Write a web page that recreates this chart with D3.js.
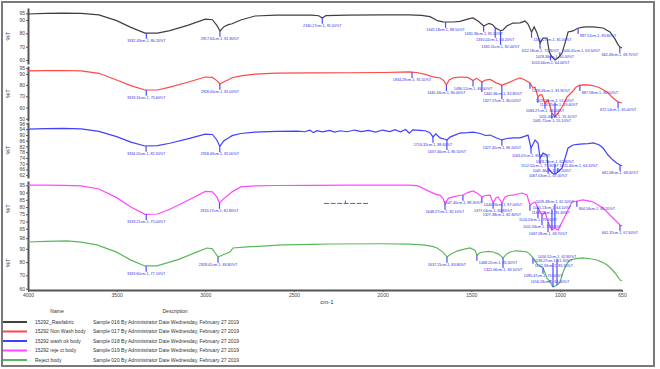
<!DOCTYPE html>
<html>
<head>
<meta charset="utf-8">
<script src="https://cdn.jsdelivr.net/npm/d3@7"></script>
<style>
  body { margin: 0; background: #fff; }
  text { font-family: "Liberation Sans", Arial, sans-serif; }
</style>
</head>
<body>
<svg id="chart" width="660" height="369"></svg>
<script>
// x ticks (cm-1)
const wnTicks = [4000, 3500, 3000, 2500, 2000, 1500, 1000, 650]

const seriesNames = ["15292_Rawfabric", "15292 Non Wash body", "15292 wash ok body", "15292 reje ct body", "Reject body"]
const descriptions = [
  "Sample 016 By Administrator Date Wednesday, February 27 2019",
  "Sample 017 By Administrator Date Wednesday, February 27 2019",
  "Sample 018 By Administrator Date Wednesday, February 27 2019",
  "Sample 019 By Administrator Date Wednesday, February 27 2019",
  "Sample 020 By Administrator Date Wednesday, February 27 2019"
]
const colors = ["#404040", "#ff4848", "#4040ff", "#ff48ff", "#5cb85c"]

// [wavenumber, %T]
const rawFabric = [[4000,94.5],[3900,95],[3800,95.2],[3700,95],[3600,93.8],[3500,89.5],[3420,84.5],[3340,80.2],[3270,80.2],[3200,82],[3100,86],[3000,90.6],[2960,90.2],[2935,86],[2917,81.8],[2895,85],[2870,86.5],[2849,87.2],[2800,90],[2720,93],[2600,93.6],[2400,93.7],[2360,93.2],[2340,91.5],[2320,93.3],[2200,93.6],[2000,93.8],[1850,93.9],[1780,93.4],[1733,92.5],[1690,89.5],[1660,88.6],[1645,88.5],[1600,88.5],[1564,89],[1510,91],[1490,91.5],[1460,89],[1430,85.5],[1400,87.5],[1380,86.5],[1365,84.2],[1335,82],[1321,82.5],[1300,85.5],[1265,87.7],[1225,87.8],[1197,89.2],[1180,87],[1160,81],[1145,84.8],[1130,80.5],[1112,72.8],[1095,76.5],[1073,76.5],[1060,66],[1045,62.3],[1028,60],[1011,61.5],[988,65.2],[971,72.8],[954,81],[926,81.8],[900,83.8],[870,84.6],[847,84.8],[813,84.8],[757,84],[718,81],[690,75.8],[670,71],[661,69.7],[650,69]]

const nonWash = [[4000,92.6],[3900,92.9],[3800,93],[3700,92.6],[3600,90.5],[3500,84.5],[3420,79.5],[3340,75.6],[3270,75.6],[3200,78.2],[3100,82.5],[3000,87.2],[2960,86.8],[2935,84],[2918,81],[2895,83],[2870,84.8],[2849,86.5],[2800,88.2],[2720,89.8],[2600,90.6],[2400,90.8],[2200,91],[2000,91.2],[1900,91.5],[1851,91.8],[1834,91.5],[1800,91],[1760,89.5],[1720,87.5],[1676,86.3],[1655,84],[1640,80],[1625,84.5],[1600,86.5],[1564,87.2],[1520,86.8],[1490,84],[1470,86],[1440,82.8],[1420,84.5],[1394,85],[1360,82],[1327,80],[1300,81.5],[1282,82.8],[1250,85],[1225,86.3],[1197,84.5],[1169,81.9],[1152,77.4],[1140,78],[1124,69.4],[1112,71.2],[1101,71.2],[1084,64],[1067,66.7],[1045,55.1],[1028,51.6],[1011,55.1],[988,60.5],[960,69.4],[932,73.8],[910,78],[887,80],[860,80.2],[830,80],[800,79],[774,77.4],[734,73.8],[701,68.5],[672,65],[661,64.5],[650,64]]

const washOk = [[4000,94.1],[3900,94.4],[3800,94.5],[3700,94.2],[3600,92.5],[3500,88.8],[3420,85],[3340,82.3],[3270,82.5],[3200,84.2],[3100,87.2],[3000,90.6],[2960,90.3],[2935,86.5],[2918,82],[2895,86],[2870,87.8],[2849,89.5],[2800,91],[2720,92],[2600,92.5],[2480,92.6],[2440,92.2],[2410,93.3],[2390,91.6],[2370,93],[2340,92.1],[2300,93.2],[2270,92],[2240,92.9],[2200,92.2],[2160,93.4],[2120,92.3],[2080,93.1],[2040,92],[2000,93.4],[1960,92.3],[1930,93.6],[1900,92.2],[1870,93.8],[1850,91.2],[1830,93.5],[1790,93.2],[1760,92.9],[1733,91.5],[1716,88.6],[1700,90.8],[1676,87.9],[1650,87],[1637,86.5],[1620,88.5],[1600,89.5],[1564,91.3],[1520,91.6],[1490,92],[1450,91],[1420,89.6],[1394,89.9],[1360,88],[1327,86.5],[1300,87.5],[1260,88],[1225,87.9],[1200,89],[1180,89.9],[1163,80.9],[1150,84],[1140,86.5],[1124,84.4],[1112,73.9],[1095,77.4],[1073,76],[1067,67],[1045,63.5],[1028,62.8],[1011,64.2],[988,67],[971,73.9],[954,80.9],[926,83],[900,83.4],[870,83.7],[840,84],[813,84.4],[780,83.2],[757,80.9],[729,76],[701,72.5],[680,70.5],[661,69],[650,68.5]]

const rejectCt = [[4000,95.2],[3900,95.2],[3800,95],[3700,94.6],[3600,92.5],[3500,86.5],[3420,80],[3340,75],[3270,75.2],[3200,78.5],[3100,84.5],[3000,90.8],[2960,90.5],[2935,87],[2920,82.8],[2895,86],[2870,88.3],[2849,90.5],[2800,93.9],[2720,94.6],[2600,94.9],[2400,95],[2200,95.1],[2000,95.2],[1850,95.1],[1800,94.6],[1740,91],[1700,88.8],[1676,88.3],[1660,86],[1648,82.1],[1630,86],[1603,87],[1570,88],[1547,88.3],[1520,90],[1490,91.1],[1460,89],[1440,87],[1420,88],[1394,88.3],[1377,82.8],[1360,86.5],[1349,87],[1327,82.8],[1310,87],[1290,88],[1265,88.3],[1240,89],[1214,89.7],[1186,88.3],[1169,81.4],[1150,83],[1140,83.5],[1124,79.4],[1101,74.5],[1084,76.6],[1067,69.7],[1045,64.1],[1028,65.5],[1011,64.1],[988,69.7],[960,76.6],[932,83.5],[904,84.2],[870,84.9],[840,84.3],[813,83.5],[757,79.4],[718,74.5],[678,69.7],[661,67.6],[650,67]]

const rejectBody = [[4000,95.1],[3900,95.6],[3780,95.9],[3700,95],[3611,92.9],[3500,87.5],[3420,81.5],[3340,77.1],[3272,77.1],[3150,82],[3050,87.5],[2990,90.6],[2960,90],[2945,87],[2928,83.8],[2900,85.5],[2861,87.6],[2844,90.6],[2765,91.4],[2562,92.9],[2400,93.3],[2297,93.6],[2000,93.8],[1850,93.5],[1772,92.9],[1720,91.8],[1693,90.6],[1660,87.5],[1637,83.8],[1610,86.5],[1580,88.3],[1540,89.8],[1507,90.6],[1480,89],[1468,85.3],[1450,87],[1434,87.6],[1400,88],[1377,87.6],[1345,86],[1321,83.1],[1300,86],[1282,87.6],[1250,88.5],[1225,88.3],[1186,87.6],[1170,86],[1152,83.1],[1124,77.8],[1095,75.6],[1073,68],[1056,65],[1039,61.3],[1016,62.8],[999,65],[982,72.5],[960,79],[943,81.6],[900,82.8],[870,83.1],[830,82.5],[791,81.6],[760,79.8],[734,77.8],[710,75],[689,71.8],[661,66.5],[650,66]]

// peak picks [wavenumber, %T]
const peaksRaw = [[3332.43,80.2],[2917.62,81.8],[2340.27,91.5],[1645.18,88.5],[1430.36,85.5],[1365.02,84.2],[1335.11,82],[1160.27,81],[1112.18,72.8],[1053.44,64],[1028.36,60],[1000.41,63.5],[897.52,83.8],[662.49,69.7]]
const peaksNonWash = [[3333.16,75.6],[2918.05,81],[1834.29,91.5],[1640.44,80],[1490.12,84],[1440.36,82.8],[1327.57,80],[1169.03,81.9],[1124.35,69.4],[1084.27,64],[1045.71,55.1],[1028.15,51.6],[1011.46,55.1],[887.58,80],[672.14,65]]
const peaksWashOk = [[3334.05,82.3],[2918.43,82],[1716.32,88.6],[1637.40,86.5],[1327.45,86.5],[1163.07,80.9],[1112.52,73.9],[1067.03,67],[1045.36,63.5],[1028.24,62.8],[1011.40,64.2],[661.08,69]]
const peaksRejectCt = [[3333.21,75],[2920.17,82.8],[1648.27,82.1],[1547.40,88.3],[1440.26,87],[1377.04,82.8],[1327.38,82.8],[1169.22,81.4],[1124.03,79.4],[1101.56,74.5],[1067.28,69.7],[1045.13,64.1],[1028.49,65.5],[904.56,84.2],[661.37,67.6]]
const peaksRejectBody = [[3333.60,77.1],[2928.41,83.8],[1637.15,83.8],[1468.22,85.3],[1321.06,83.1],[1152.33,83.1],[1095.47,75.6],[1056.18,65],[1039.27,61.3],[1016.52,62.8]]

const allSeries = [rawFabric, nonWash, washOk, rejectCt, rejectBody]
const allPeaks = [peaksRaw, peaksNonWash, peaksWashOk, peaksRejectCt, peaksRejectBody]

// y domain and ticks of each stacked panel
const yDomains = [[57, 99], [48, 97], [60, 99], [60, 98], [59, 100]]
const yTicks = [[60,70,80,90,95], [50,60,70,80,90,95], [62,66,70,74,78,82,86,90,94,98], [65,70,75,80,85,90,95], [60,70,80,90,98]]
const panelBox = [[8, 64], [66, 121], [122, 178], [181, 236], [235.5, 290]]

const svg = d3.select("#chart")

// outer frame
svg.append("rect")
  .attr("x", 2).attr("y", 2).attr("width", 652).attr("height", 364)
  .attr("fill", "#fff").attr("stroke", "#7a7a7a").attr("stroke-width", 2)

const x = d3.scaleLinear().domain([4000, 650]).range([28, 622])

const labelColor = "#2c2ce6"
const allBoxes = []   // label boxes of every panel, so neighbours do not collide

allSeries.forEach((data, i) => {
  const y = d3.scaleLinear().domain(yDomains[i]).range([panelBox[i][1], panelBox[i][0]])
  const g = svg.append("g")

  // y axis of the panel
  const ax = g.append("g")
    .attr("transform", "translate(28,0)")
    .call(d3.axisLeft(y).tickValues(yTicks[i]).tickSize(2).tickSizeOuter(0))
  ax.select(".domain").attr("stroke", "#555").attr("stroke-width", 2)
  ax.selectAll(".tick line").attr("stroke", "#555")
  ax.selectAll(".tick text").attr("font-size", 5).attr("fill", "#444").attr("x", -3)
    .style("font-family", "Liberation Sans, Arial, sans-serif")

  g.append("text")
    .attr("transform", `translate(10,${(panelBox[i][0] + panelBox[i][1]) / 2}) rotate(-90)`)
    .attr("text-anchor", "middle")
    .attr("font-size", 6).attr("fill", "#333")
    .text("%T")

  g.append("path")
    .datum(data)
    .attr("fill", "none")
    .attr("stroke", colors[i])
    .attr("stroke-width", 1.2)
    .attr("d", d3.line().x(d => x(d[0])).y(d => y(d[1])))

  // peak labels: rows below the peak first, then rows above, with side shifts
  const yLimit = i === 4 ? 287.5 : panelBox[i][1] + 2
  const yTop = panelBox[i][0] + 4
  const overlaps = b => allBoxes.some(o => o.x0 < b.x1 && b.x0 < o.x1 && o.y0 < b.y1 && b.y0 < o.y1)
  allPeaks[i].forEach(p => {
    const px = x(p[0]), py = y(p[1])
    const t = g.append("text")
      .attr("font-size", 3.7).attr("fill", labelColor)
      .attr("text-anchor", "middle")
      .text(p[0].toFixed(2) + "cm-1, " + p[1].toFixed(2) + "%T")
    const w = t.node().getComputedTextLength()
    const rows = []
    for (let ty = py + 9; ty <= yLimit; ty += 4.2) rows.push(ty)
    for (let ty = Math.min(py + 9, yLimit) - 4.2; ty >= yTop; ty -= 4.2) rows.push(ty)
    let best = null
    const shiftSets = [[0, 0.55, -0.55], [1.1, -1.1, 1.6, -1.6]]
    for (const shifts of shiftSets) {
      for (const ty of rows) {
        for (const s of shifts) {
          const cx = Math.min(Math.max(px + s * w, 32 + w / 2), 650 - w / 2)
          const b = {x0: cx - w / 2, x1: cx + w / 2, y0: ty - 3.2, y1: ty + 0.6, cx, ty}
          if (!overlaps(b)) { best = b; break }
        }
        if (best) break
      }
      if (best) break
    }
    if (!best) {
      const ty = Math.min(py + 9, yLimit)
      best = {x0: px - w / 2, x1: px + w / 2, y0: ty - 3.2, y1: ty + 0.6, cx: px, ty}
    }
    allBoxes.push(best)
    t.attr("x", best.cx).attr("y", best.ty)
    const tipY = best.ty > py ? best.ty - 3.2 : best.ty + 0.6
    g.append("line")
      .attr("x1", px).attr("x2", px)
      .attr("y1", py).attr("y2", tipY)
      .attr("stroke", "#4a4aff").attr("stroke-width", 1.2)
  })

  // stray dashed marker in the reje ct body panel
  if (i === 3) {
    g.append("line")
      .attr("x1", x(2330)).attr("x2", x(2080))
      .attr("y1", y(82.5)).attr("y2", y(82.5))
      .attr("stroke", labelColor).attr("stroke-width", 0.8)
      .attr("stroke-dasharray", "5,1.5")
    g.append("line")
      .attr("x1", x(2210)).attr("x2", x(2210))
      .attr("y1", y(82.5)).attr("y2", y(84.5))
      .attr("stroke", labelColor).attr("stroke-width", 0.8)
  }
})

// x axis
const xa = svg.append("g")
  .attr("transform", "translate(0,290)")
  .call(d3.axisBottom(x).tickValues(wnTicks).tickSize(2).tickSizeOuter(0).tickFormat(d3.format("d")))
xa.select(".domain").attr("stroke", "#555").attr("stroke-width", 2)
xa.selectAll(".tick line").attr("stroke", "#555")
xa.selectAll(".tick text").attr("font-size", 5).attr("fill", "#444").attr("y", 3.5)
  .style("font-family", "Liberation Sans, Arial, sans-serif")

svg.append("text")
  .attr("x", 327).attr("y", 304)
  .attr("font-size", 6).attr("fill", "#333").attr("text-anchor", "middle")
  .text("cm-1")

// legend table
const lg = svg.append("g")
lg.append("text").attr("x", 57).attr("y", 313).attr("font-size", 5).attr("fill", "#333").attr("text-anchor", "middle").text("Name")
lg.append("text").attr("x", 175).attr("y", 313).attr("font-size", 5).attr("fill", "#333").attr("text-anchor", "middle").text("Description")

seriesNames.forEach((name, i) => {
  const ry = 322 + i * 9.5
  lg.append("line")
    .attr("x1", 3).attr("x2", 27).attr("y1", ry).attr("y2", ry)
    .attr("stroke", colors[i]).attr("stroke-width", 2)
  lg.append("text").attr("x", 35).attr("y", ry + 1.5).attr("font-size", 5).attr("fill", "#333").text(name)
  lg.append("text").attr("x", 93).attr("y", ry + 1.5).attr("font-size", 5).attr("fill", "#333").text(descriptions[i])
})
</script>
</body>
</html>
